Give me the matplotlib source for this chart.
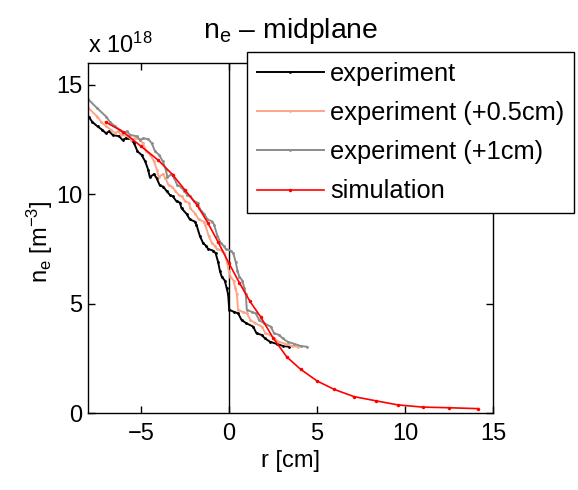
import numpy as np
import matplotlib
matplotlib.use("Agg")
import matplotlib.pyplot as plt

# ================================
# DATA  (n_e in units of 1e18 m^-3, r in cm)
# ================================
r_exp = [-9.0, -8.5, -7.97, -7.75, -7.46, -7.18, -6.99, -6.80, -6.60, -6.23,
         -6.04, -5.85, -5.57, -5.38, -5.19, -4.96, -4.75, -4.58, -4.49, -4.25,
         -4.10, -3.92, -3.73, -3.54, -3.35, -3.18, -2.97, -2.78, -2.69, -2.40,
         -2.22, -1.93, -1.84, -1.65, -1.46, -1.30, -1.18, -0.89, -0.75, -0.61,
         -0.51, -0.41, -0.23, -0.13, -0.04, 0.02, 0.30, 0.53, 0.72, 1.00,
         1.38, 1.57, 1.86, 2.05, 2.33, 2.71, 3.09, 3.43]
ne_exp = [14.35, 13.95, 13.55, 13.30, 13.10, 12.94, 12.79, 12.87, 12.71, 12.65,
          12.48, 12.56, 12.51, 12.33, 11.96, 11.80, 11.50, 11.11, 10.78, 10.92,
          10.73, 10.40, 10.35, 10.15, 9.97, 9.90, 9.67, 9.62, 9.36, 9.10,
          8.85, 8.75, 8.60, 8.10, 7.76, 7.65, 7.50, 7.42, 7.30, 6.90,
          6.50, 6.24, 6.05, 5.72, 5.42, 4.72, 4.62, 4.55, 4.25, 4.10,
          3.95, 3.64, 3.57, 3.41, 3.26, 3.16, 3.06, 3.03]

shifts = [0.0, 0.5, 1.0]  # cm
exp_labels = ["experiment", "experiment (+0.5cm)", "experiment (+1cm)"]
exp_colors = ["#000000", "#ffa585", "#8c8c8c"]

r_sim = [-7.0, -6.0, -5.0, -4.0, -3.2, -2.5, -1.8, -1.2, -0.6, 0.0, 0.6,
         1.2, 1.8, 2.5, 3.28, 4.07, 5.02, 5.98, 7.1, 8.33, 9.6, 11.0,
         12.5, 14.13]
ne_sim = [13.3, 12.85, 12.2, 11.55, 10.9, 10.2, 9.5, 8.7, 7.8, 6.85, 5.95,
          5.1, 4.4, 3.45, 2.57, 2.0, 1.46, 1.08, 0.75, 0.56, 0.37, 0.27,
          0.24, 0.20]

# ================================
# STYLE
# ================================
plt.rcParams["font.family"] = ["Liberation Sans", "DejaVu Sans"]
plt.rcParams["font.size"] = 17
plt.rcParams["mathtext.fontset"] = "custom"
plt.rcParams["mathtext.rm"] = "Liberation Sans"
plt.rcParams["mathtext.default"] = "regular"

fig = plt.figure(figsize=(5.78, 4.90), dpi=100)
ax = fig.add_axes([88 / 578, 77 / 490, 405 / 578, 350 / 490])

# ================================
# PLOT
# ================================
for s, lab, col in zip(shifts, exp_labels, exp_colors):
    ax.plot(np.array(r_exp) + s, ne_exp, color=col, lw=1.4,
            marker=".", ms=2, label=lab)

ax.plot(r_sim, ne_sim, color="#ff0000", lw=1.2, marker=".", ms=3,
        label="simulation")

ax.axvline(0, color="black", lw=1.0, zorder=1)

ax.set_xlim(-8, 15)
ax.set_ylim(0, 16)
ax.set_xticks([-5, 0, 5, 10, 15])
ax.set_yticks([0, 5, 10, 15])
ax.set_xticklabels(["\u22125", "0", "5", "10", "15"])
ax.tick_params(direction="in", top=True, right=True, length=5, width=1)
ax.tick_params(axis="x", pad=7)
ax.tick_params(axis="y", pad=4)
for sp in ax.spines.values():
    sp.set_linewidth(1.0)

ax.set_xlabel("r [cm]", labelpad=4)
ax.set_ylabel("n$_e$ [m$^{-3}$]")
ax.yaxis.set_label_coords(-0.081, 0.49)
ax.set_title("n$_e$ \u2013 midplane", pad=18)
ax.text(0, (413 - 53) / 350, "x 10$^{18}$", transform=ax.transAxes,
        ha="left", va="baseline")

leg = ax.legend(loc="upper left", bbox_to_anchor=(247 / 578, 1 - 52 / 490),
                bbox_transform=fig.transFigure, fancybox=False,
                edgecolor="black", framealpha=1, fontsize=18.3,
                handlelength=2.64, handletextpad=0.24, labelspacing=0.6,
                borderpad=0.38, borderaxespad=0)
leg.get_frame().set_linewidth(1.0)

plt.savefig("out.png", dpi=100)
